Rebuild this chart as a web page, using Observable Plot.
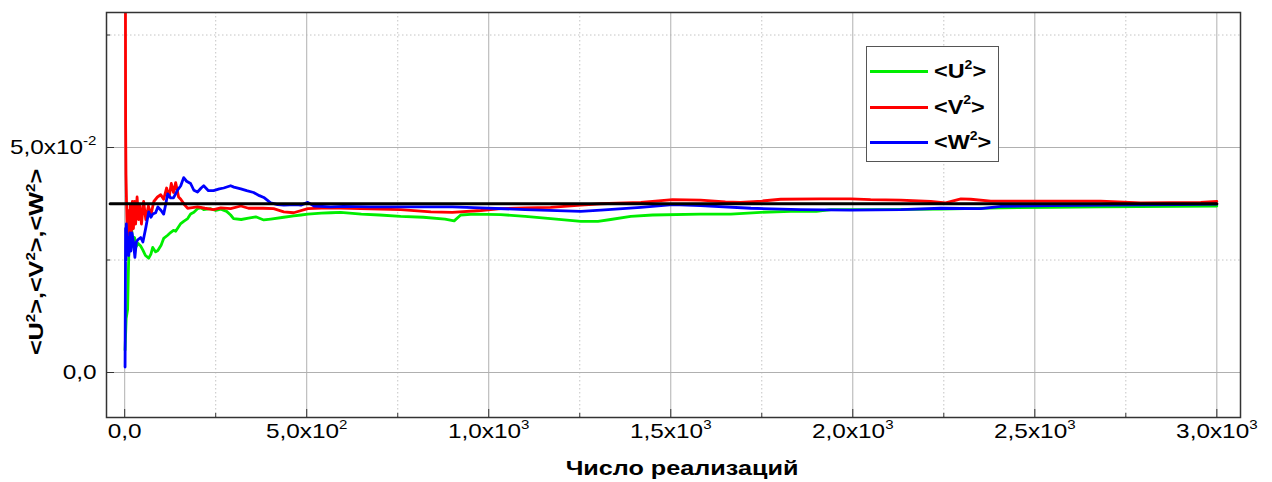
<!DOCTYPE html>
<html><head><meta charset="utf-8">
<script src="https://cdn.jsdelivr.net/npm/d3@7"></script>
<script src="https://cdn.jsdelivr.net/npm/@observablehq/plot@0.6"></script>
<style>
body{margin:0;background:#fff;}
#wrap{position:relative;width:1272px;height:482px;font-family:"Liberation Sans",Arial,sans-serif;}
#legend{position:absolute;left:866px;top:46px;width:133px;height:116px;box-sizing:border-box;border:1.5px solid #555;background:#fff;padding-top:7px;}
.row{height:35.5px;display:flex;align-items:center;}
.sw{margin-left:2.5px;width:58px;height:3px;}
.lt{margin-left:6px;font-weight:bold;font-size:20px;display:inline-block;transform:scaleX(1.17);transform-origin:left center;white-space:nowrap;color:#000;}
.lt sup{font-size:12px;position:relative;top:-2px;vertical-align:super;line-height:0;}
</style></head>
<body><div id="wrap"><div id="legend"></div></div>
<script>
// ---- data ----
const seriesNames = ["<U^{2}>", "<V^{2}>", "<W^{2}>"];
const seriesColors = ["#00ee00", "#ff0000", "#0000ff"];
const U = [[1,0.005],[4,0.012],[8,0.014],[10,0.022],[13,0.032],[16,0.028],[19,0.032],[22,0.029],[27,0.030],[32,0.028],[36,0.0287],[44,0.0281],[50,0.0272],[57,0.0260],[66,0.0254],[72,0.0263],[77,0.0278],[85,0.0268],[91,0.0271],[100,0.0283],[107,0.0298],[118,0.0305],[126,0.0311],[134,0.0316],[140,0.0314],[154,0.0331],[162,0.0336],[173,0.0342],[181,0.0352],[190,0.0356],[200,0.0364],[209,0.0366],[217,0.0362],[236,0.0364],[250,0.0360],[264,0.0363],[280,0.0358],[291,0.0350],[299,0.0342],[320,0.0340],[340,0.0343],[360,0.0346],[382,0.0339],[401,0.0341],[437,0.0345],[464,0.0348],[484,0.0350],[503,0.0352],[540,0.0354],[566,0.0355],[593,0.0356],[650,0.0352],[700,0.0350],[758,0.0347],[820,0.0345],[880,0.0341],[905,0.0337],[923,0.0350],[960,0.0352],[1033,0.0351],[1100,0.0347],[1170,0.0342],[1253,0.0336],[1300,0.0336],[1335,0.0340],[1390,0.0347],[1450,0.0350],[1582,0.0352],[1665,0.0352],[1747,0.0356],[1830,0.0358],[1900,0.0358],[1940,0.0362],[2049,0.0362],[2242,0.0363],[2407,0.0366],[2544,0.0367],[2681,0.0368],[3000,0.0370]];
const V = [[1,0.15],[2.5,0.055],[3.5,0.044],[5,0.038],[7,0.031],[9,0.036],[12,0.029],[15,0.037],[18,0.031],[21,0.038],[24,0.032],[27,0.038],[30,0.033],[34,0.039],[38,0.034],[42,0.037],[46,0.033],[52,0.038],[58,0.034],[65,0.037],[72,0.035],[80,0.038],[90,0.039],[99,0.0395],[107,0.0385],[115,0.041],[122,0.039],[128,0.042],[134,0.040],[140,0.0422],[148,0.039],[154,0.0385],[165,0.0372],[173,0.0365],[181,0.0366],[200,0.0368],[220,0.0365],[244,0.0362],[264,0.0366],[291,0.0364],[319,0.0370],[340,0.0365],[380,0.0365],[409,0.0364],[437,0.0357],[464,0.0355],[503,0.0364],[560,0.0366],[621,0.0365],[700,0.0363],[758,0.0362],[841,0.0357],[900,0.0356],[978,0.0360],[1033,0.0364],[1100,0.0366],[1170,0.0367],[1253,0.0372],[1308,0.0375],[1418,0.0378],[1505,0.0384],[1582,0.0383],[1650,0.0379],[1692,0.0378],[1750,0.0381],[1802,0.0385],[1912,0.0386],[1995,0.0386],[2049,0.0384],[2132,0.0383],[2214,0.0380],[2255,0.0377],[2297,0.0386],[2324,0.0385],[2379,0.0381],[2544,0.0381],[2681,0.0381],[2791,0.0377],[2956,0.0378],[3000,0.0380]];
const W = [[1,0.0012],[2.5,0.032],[3.5,0.025],[4.5,0.033],[6,0.028],[8,0.030],[11,0.026],[14,0.031],[17,0.027],[20,0.031],[24,0.029],[28,0.0256],[32,0.029],[36,0.0295],[44,0.0300],[50,0.029],[58,0.0322],[66,0.0357],[72,0.0345],[77,0.0352],[85,0.0355],[91,0.0368],[100,0.0360],[107,0.0352],[113,0.0375],[118,0.0397],[126,0.0388],[134,0.0388],[145,0.0405],[154,0.0415],[162,0.0433],[170,0.0425],[181,0.0420],[190,0.0405],[200,0.0401],[210,0.0410],[217,0.0415],[230,0.0404],[244,0.0404],[260,0.0408],[272,0.0410],[291,0.0415],[300,0.0412],[319,0.0408],[335,0.0404],[354,0.0400],[370,0.0393],[382,0.0389],[401,0.0377],[420,0.0373],[437,0.0372],[470,0.0373],[484,0.0372],[503,0.0378],[520,0.0370],[566,0.0368],[600,0.0369],[676,0.0368],[758,0.0368],[841,0.0368],[900,0.0368],[978,0.0366],[1100,0.0362],[1253,0.0358],[1308,0.0361],[1418,0.0367],[1505,0.0373],[1582,0.0371],[1720,0.0365],[1857,0.0362],[1995,0.0361],[2132,0.0362],[2242,0.0365],[2352,0.0364],[2407,0.0369],[2544,0.0371],[2700,0.0372],[2900,0.0373],[3000,0.0374]];
const refX = [-40, 3000];
const refValue = 0.0375;
const xMajor = [0, 500, 1000, 1500, 2000, 2500, 3000];
const xMinor = [250, 750, 1250, 1750, 2250, 2750];
const yMajor = [0, 0.05];
const yMinor = [0.025, 0.075];
const xTickLabels = ["0,0", "5,0x10^{2}", "1,0x10^{3}", "1,5x10^{3}", "2,0x10^{3}", "2,5x10^{3}", "3,0x10^{3}"];
const yTickLabels = ["0,0", "5,0x10^{-2}"];
const xTitle = "Число реализаций";
const yTitle = "<U^{2}>,<V^{2}>,<W^{2}>";

// ---- layout ----
const W_ = 1272, H_ = 482, mt = 12, mb = 65, ml = 106, mr = 32;
const fw = W_ - ml - mr, fh = H_ - mt - mb;

const series = [U, V, W].map((pts, k) => pts.map(([x, y]) => ({x, y, s: seriesNames[k]})));
const ref = refX.map(x => ({x, y: refValue}));

const plot = Plot.plot({
  width: W_, height: H_, marginTop: mt, marginBottom: mb, marginLeft: ml, marginRight: mr,
  style: {fontFamily: '"Liberation Sans", Arial, sans-serif', fontSize: "21px", color: "#000", background: "#fff", overflow: "visible"},
  x: {domain: [-50, 3065], ticks: xMajor, tickFormat: d => xTickLabels[xMajor.indexOf(d)], tickSize: 0, tickPadding: 6, label: null},
  y: {domain: [-0.01, 0.08], ticks: yMajor, tickFormat: d => yTickLabels[yMajor.indexOf(d)], tickSize: 0, tickPadding: 10, label: null},
  marks: [
    Plot.ruleX(xMinor, {stroke: "#c4c4c4", strokeDasharray: "1.5,2.5"}),
    Plot.ruleY(yMinor, {stroke: "#c4c4c4", strokeDasharray: "1.5,2.5"}),
    Plot.ruleX(xMajor, {stroke: "#b0b0b0"}),
    Plot.ruleY(yMajor, {stroke: "#b0b0b0"}),
    Plot.ruleX(xMajor, {stroke: "#333", insetTop: fh - 8}),
    Plot.ruleX(xMinor, {stroke: "#333", insetTop: fh - 4}),
    Plot.ruleY(yMajor, {stroke: "#333", insetRight: fw - 8}),
    Plot.ruleY(yMinor, {stroke: "#333", insetRight: fw - 4}),
    ...series.map((d, k) => Plot.line(d, {x: "x", y: "y", stroke: seriesColors[k], strokeWidth: 2.8, clip: true})),
    Plot.line(ref, {x: "x", y: "y", stroke: "#000", strokeWidth: 3}),
    Plot.frame({stroke: "#333", strokeWidth: 1.5})
  ]
});

function fillSup(el, str, supSize, rise) {
  el.textContent = "";
  const parts = str.split(/\^\{([^}]*)\}/);
  parts.forEach((p, i) => {
    if (p === "") return;
    const t = document.createElementNS("http://www.w3.org/2000/svg", "tspan");
    t.textContent = p;
    if (i % 2 === 1) {
      t.setAttribute("font-size", supSize);
      t.setAttribute("dy", -rise);
    } else if (i > 0) {
      t.setAttribute("dy", rise);
    }
    el.appendChild(t);
  });
}
function stretch(t, s) {
  const x = +(t.getAttribute("x") || 0);
  const tr = t.getAttribute("transform") || "";
  t.setAttribute("transform", tr + ` translate(${x},0) scale(${s},1) translate(${-x},0)`);
}
const svg = d3.select(plot);
svg.selectAll("text").each(function() {
  const s = this.textContent;
  if (s.includes("^{")) fillSup(this, s, 13, 9);
  stretch(this, 1.16);
});
// axis titles
const xt = svg.append("text").attr("text-anchor", "middle").attr("font-weight", "bold").attr("font-size", 20)
  .attr("fill", "#000").attr("transform", `translate(682,475) scale(1.26,1)`);
xt.text(xTitle);
const yt = svg.append("text").attr("text-anchor", "middle").attr("font-weight", "bold").attr("font-size", 20)
  .attr("fill", "#000").attr("transform", `translate(43,262) rotate(-90) scale(1.26,1)`);
fillSup(yt.node(), yTitle, 12, 8);

document.getElementById("wrap").prepend(plot);

// legend
const leg = document.getElementById("legend");
seriesNames.forEach((name, k) => {
  const row = document.createElement("div"); row.className = "row";
  const sw = document.createElement("div"); sw.className = "sw"; sw.style.background = seriesColors[k];
  const lt = document.createElement("span"); lt.className = "lt";
  name.split(/\^\{([^}]*)\}/).forEach((p, i) => {
    if (i % 2 === 1) { const s = document.createElement("sup"); s.textContent = p; lt.appendChild(s); }
    else lt.appendChild(document.createTextNode(p));
  });
  row.appendChild(sw); row.appendChild(lt); leg.appendChild(row);
});
</script>
</body></html>
